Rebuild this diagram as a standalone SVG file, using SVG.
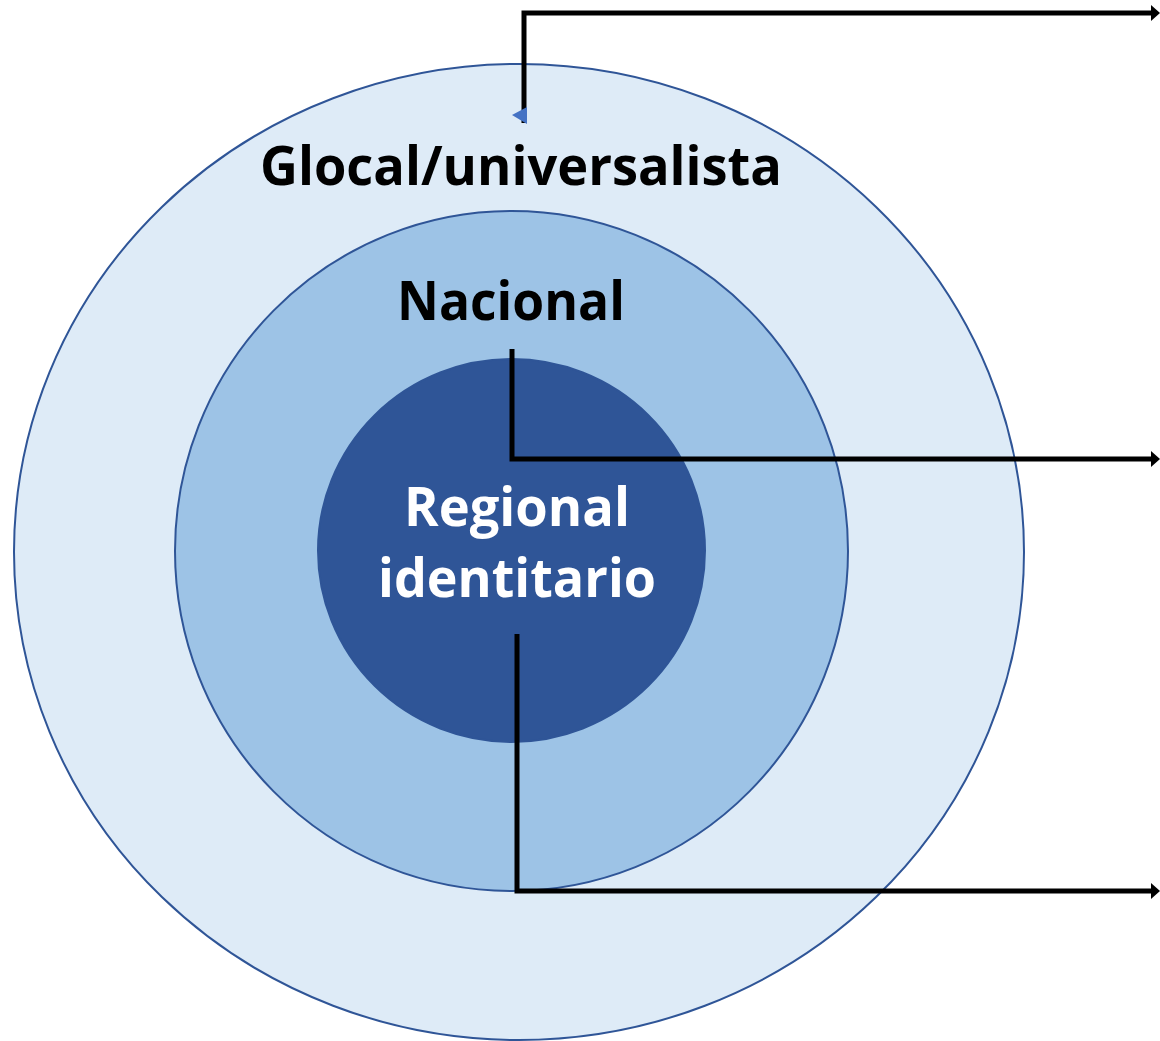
<svg xmlns="http://www.w3.org/2000/svg" width="1160" height="1041" viewBox="0 0 1160 1041">
<style>
.ring{stroke:#2F5597;stroke-width:2}
.lbl{font-family:"Open Sans","Lato","Liberation Sans",sans-serif;font-weight:bold;font-size:53px;text-anchor:middle}
.conn{fill:none;stroke:#000;stroke-width:5;stroke-linejoin:miter}
</style>
<defs>
<marker id="ah" markerWidth="10" markerHeight="16" refX="1" refY="8" orient="auto" markerUnits="userSpaceOnUse" viewBox="0 0 10 16">
<path d="M0,0 L9,8 L0,16 z" fill="#000"/>
</marker>
</defs>
<rect width="1160" height="1041" fill="#fff"/>
<g id="glocal">
<ellipse class="ring" cx="519" cy="552" rx="505" ry="488" fill="#DEEBF7"/>
<text class="lbl" x="521" y="185" textLength="522" lengthAdjust="spacingAndGlyphs">Glocal/universalista</text>
</g>
<g id="nacional">
<ellipse class="ring" cx="511.5" cy="551" rx="336.5" ry="340" fill="#9DC3E6"/>
<text class="lbl" x="511" y="320" textLength="228" lengthAdjust="spacingAndGlyphs">Nacional</text>
</g>
<g id="regional">
<ellipse class="ring" cx="511.5" cy="550.5" rx="193.5" ry="191.5" fill="#2F5597"/>
<text class="lbl" x="517" y="526" fill="#fff" textLength="226" lengthAdjust="spacingAndGlyphs">Regional</text>
<text class="lbl" x="517" y="597" fill="#fff" textLength="278" lengthAdjust="spacingAndGlyphs">identitario</text>
</g>
<g id="connectors">
<path class="conn" d="M524,123 V13 H1152" marker-end="url(#ah)"/>
<polygon points="512,115 527,107 527,124" fill="#4472C4"/>
<path class="conn" d="M512,349 V459 H1152" marker-end="url(#ah)"/>
<path class="conn" d="M517,634 V891 H1152" marker-end="url(#ah)"/>
</g>
</svg>
